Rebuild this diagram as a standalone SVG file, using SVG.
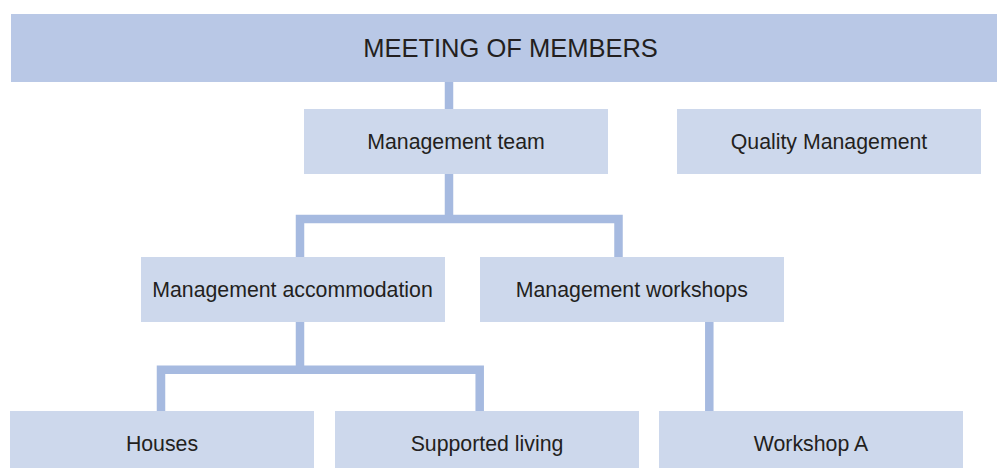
<svg xmlns="http://www.w3.org/2000/svg" width="997" height="468" viewBox="0 0 997 468">
<style>
.top{fill:#b9c8e6}
.box{fill:#cdd8ec}
.con{fill:none;stroke:#a6bae0;stroke-width:8.5;stroke-linecap:butt;stroke-linejoin:miter}
text{font-family:"Liberation Sans",Arial,sans-serif;fill:#231f20;text-anchor:middle}
.t1{font-size:25.5px}
.t2{font-size:21.3px}
</style>
<rect width="997" height="468" fill="#ffffff"/>
<g id="connectors">
<path class="con" d="M449,82 V109"/>
<path class="con" d="M449,174 V219 M300,257 V219 H618.5 V257"/>
<path class="con" d="M300,322 V369.7 M161,411 V369.7 H479.7 V411"/>
<path class="con" d="M709.3,322 V411"/>
</g>
<g id="meeting">
<rect class="top" x="11" y="14" width="986" height="68"/>
<text class="t1" x="510.5" y="57">MEETING OF MEMBERS</text>
</g>
<g id="management-team">
<rect class="box" x="304" y="109" width="304" height="65"/>
<text class="t2" x="456" y="149.3">Management team</text>
</g>
<g id="quality-management">
<rect class="box" x="677" y="109" width="304" height="65"/>
<text class="t2" x="829" y="149.3">Quality Management</text>
</g>
<g id="management-accommodation">
<rect class="box" x="141" y="257" width="304" height="65"/>
<text class="t2" x="292.5" y="297.3">Management accommodation</text>
</g>
<g id="management-workshops">
<rect class="box" x="480" y="257" width="304" height="65"/>
<text class="t2" x="631.8" y="297.3">Management workshops</text>
</g>
<g id="houses">
<rect class="box" x="10" y="411" width="304" height="65"/>
<text class="t2" x="162" y="451">Houses</text>
</g>
<g id="supported-living">
<rect class="box" x="335" y="411" width="304" height="65"/>
<text class="t2" x="487" y="451">Supported living</text>
</g>
<g id="workshop-a">
<rect class="box" x="659" y="411" width="304" height="65"/>
<text class="t2" x="811" y="451">Workshop A</text>
</g>
</svg>
